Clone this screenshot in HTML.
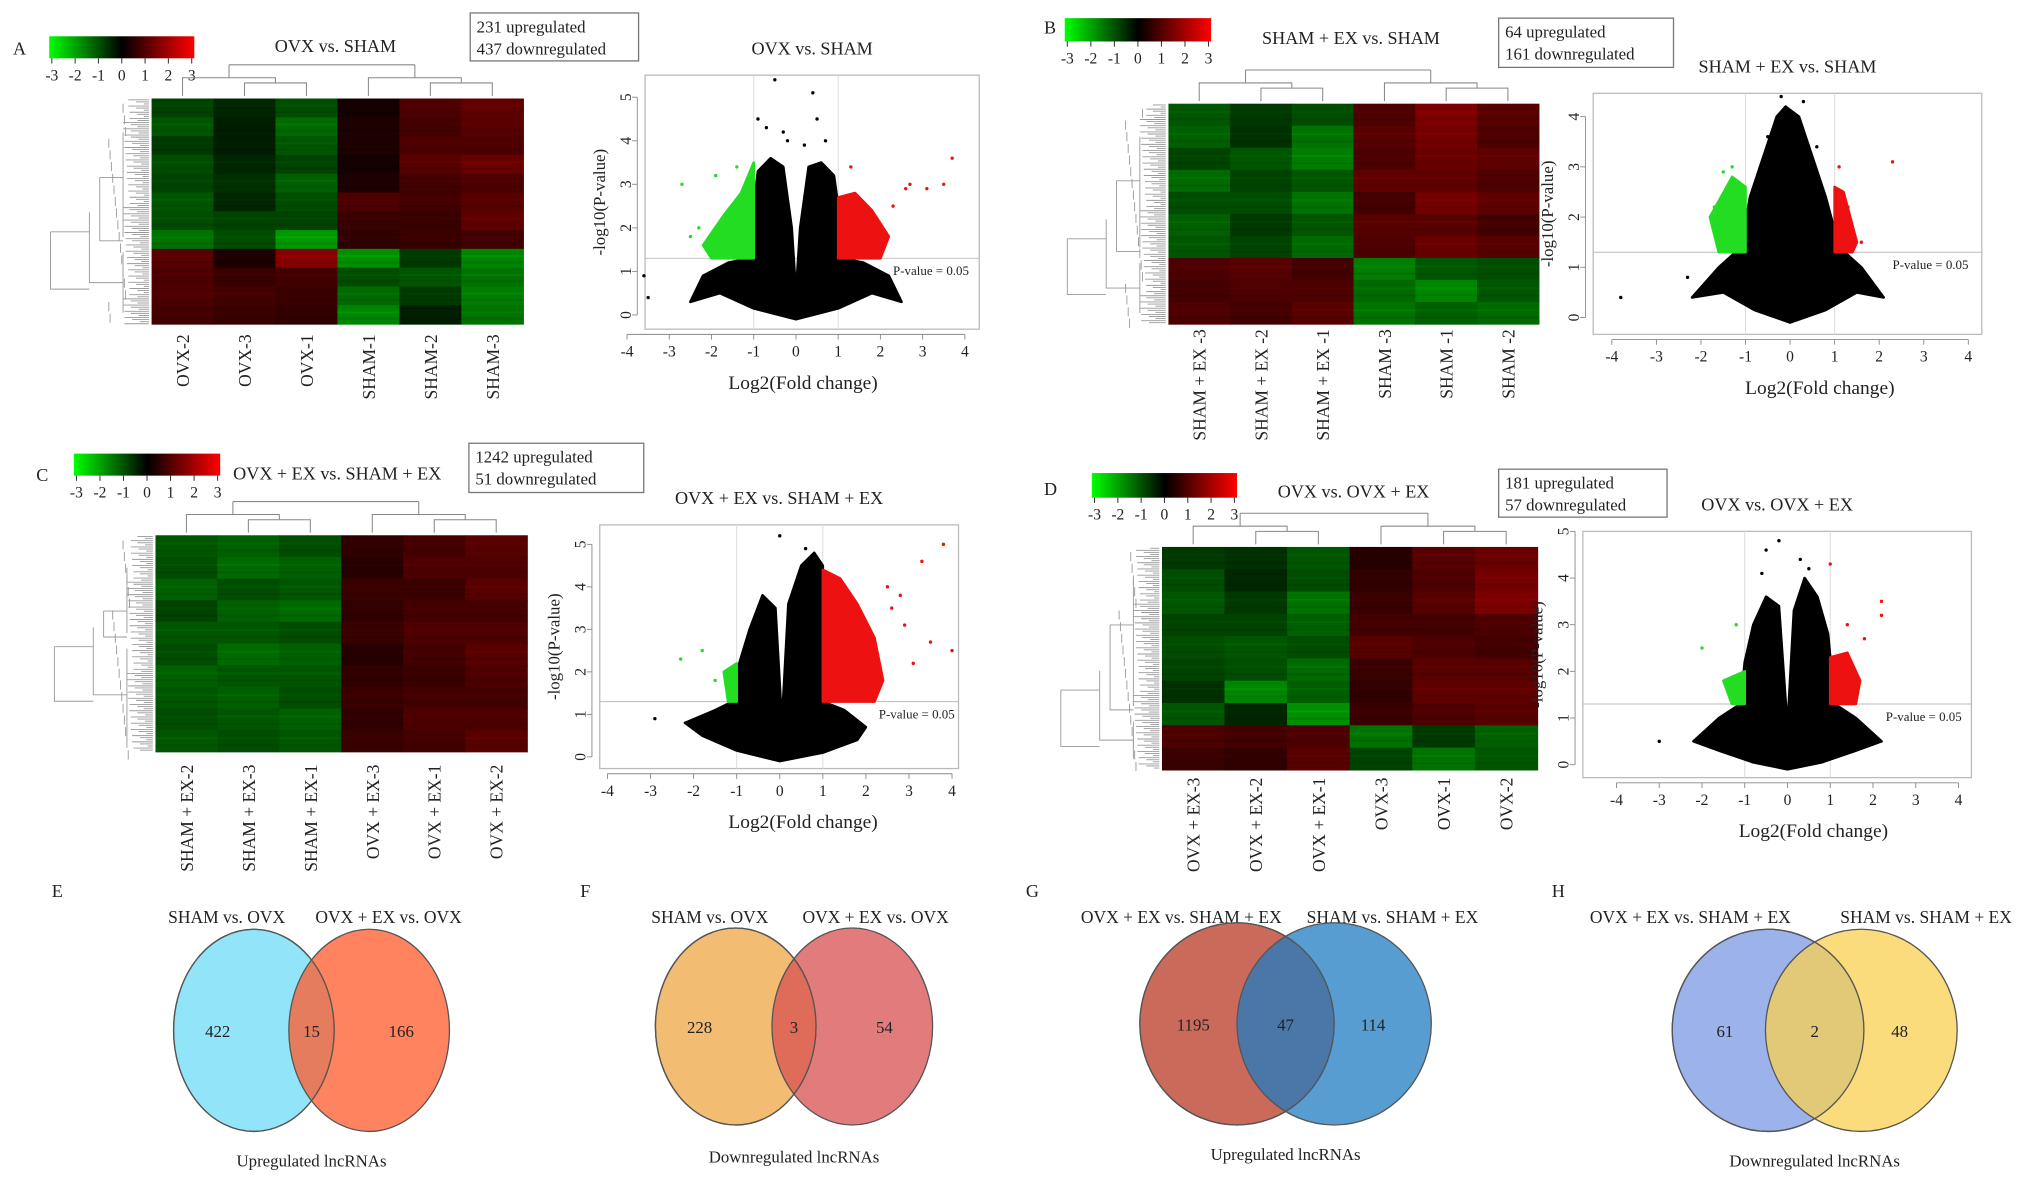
<!DOCTYPE html>
<html><head><meta charset="utf-8">
<style>
html,body{margin:0;padding:0;background:#fff;}
svg{display:block;}
text{font-family:"Liberation Serif",serif;fill:#222;}
</style></head>
<body>
<svg id="fig" width="2031" height="1182" viewBox="0 0 1568 912" preserveAspectRatio="none" xmlns="http://www.w3.org/2000/svg">
<defs>
<linearGradient id="cbar" x1="0" x2="1" y1="0" y2="0">
<stop offset="0" stop-color="#00ff00"/><stop offset="0.5" stop-color="#000"/><stop offset="1" stop-color="#ff0000"/>
</linearGradient>
</defs>
</svg>
<script>
// ---------- DATA ----------
const heatA = [
[-0.7,-0.4,-0.8,0.2,0.8,1.0],[-0.9,-0.3,-1.1,0.3,0.7,0.9],[-0.6,-0.3,-0.9,0.3,0.8,0.8],
[-0.8,-0.4,-0.7,0.2,0.9,1.1],[-0.7,-0.5,-1.0,0.3,0.7,0.8],[-0.9,-0.4,-0.8,0.8,0.7,0.9],
[-0.8,-0.7,-0.7,0.6,0.6,1.0],[-1.2,-0.8,-1.6,0.5,0.6,0.7],[0.9,0.3,1.4,-1.5,-0.6,-1.4],
[0.8,0.6,0.7,-0.8,-0.9,-1.2],[0.8,0.7,0.6,-1.1,-0.6,-1.3],[0.7,0.6,0.5,-1.4,-0.3,-1.2]];
const heatB = [
[-0.9,-0.6,-0.8,0.8,1.3,0.9],[-1.0,-0.5,-1.2,0.9,1.2,0.8],[-0.7,-0.9,-1.3,0.8,1.1,1.0],
[-1.1,-0.7,-0.9,1.0,1.0,0.8],[-0.8,-0.8,-1.2,0.7,1.2,1.0],[-1.0,-0.6,-0.9,0.9,0.9,0.7],
[-0.9,-0.7,-1.1,0.8,1.1,0.9],[0.8,0.9,0.7,-1.3,-0.9,-0.8],[0.7,0.8,0.8,-1.1,-1.4,-0.9],
[0.8,0.7,0.9,-1.2,-1.0,-1.1]];
const heatC = [
[-0.9,-1.0,-0.8,0.5,0.7,0.9],[-0.8,-1.1,-1.0,0.4,0.8,0.8],[-1.0,-0.8,-0.9,0.6,0.6,0.9],
[-0.7,-1.0,-1.1,0.5,0.7,0.7],[-0.9,-0.9,-0.8,0.6,0.8,0.8],[-0.8,-1.1,-1.0,0.4,0.7,0.9],
[-1.0,-0.9,-0.9,0.5,0.6,0.8],[-0.9,-1.0,-0.8,0.6,0.7,0.7],[-0.8,-0.9,-1.0,0.5,0.8,0.8],
[-0.9,-0.8,-0.9,0.6,0.7,0.9]];
const heatD = [
[-0.6,-0.5,-0.9,0.4,0.9,1.1],[-0.8,-0.4,-0.8,0.5,0.8,1.2],[-0.9,-0.6,-1.2,0.6,0.9,1.3],
[-0.7,-0.7,-1.0,0.7,0.7,0.8],[-0.8,-0.9,-0.8,0.9,0.8,0.7],[-0.7,-0.8,-1.1,0.6,0.9,0.9],
[-0.5,-1.4,-1.0,0.5,1.0,1.0],[-0.9,-0.4,-1.5,0.6,0.8,0.9],[0.8,0.7,0.8,-1.2,-0.6,-1.0],
[0.6,0.5,0.9,-0.7,-1.2,-0.9]];
const labelsA = ["OVX-2","OVX-3","OVX-1","SHAM-1","SHAM-2","SHAM-3"];
const labelsB = ["SHAM + EX -3","SHAM + EX -2","SHAM + EX -1","SHAM -3","SHAM -1","SHAM -2"];
const labelsC = ["SHAM + EX-2","SHAM + EX-3","SHAM + EX-1","OVX + EX-3","OVX + EX-1","OVX + EX-2"];
const labelsD = ["OVX + EX-3","OVX + EX-2","OVX + EX-1","OVX-3","OVX-1","OVX-2"];
const xTicks = [-4,-3,-2,-1,0,1,2,3,4];
const cbarTicks = ["-3","-2","-1","0","1","2","3"];
// volcano envelopes (log2FC, -log10 p)
const cloudAx=[-2.5,-2.2,-1.6,-1.1,-1.0,-0.9,-0.6,-0.3,-0.1,0,0.1,0.3,0.6,0.9,1.0,1.1,1.6,2.2,2.5,1.8,1.0,0,-1.0,-1.8];
const cloudAy=[0.3,0.9,1.2,1.3,2.5,3.3,3.6,3.4,2.0,0.5,2.0,3.4,3.5,3.2,2.5,1.3,1.2,0.9,0.3,0.5,0.15,-0.1,0.15,0.5];
const greenAx=[-1,-1,-1.3,-1.7,-2.2,-2.0], greenAy=[1.3,3.5,2.8,2.3,1.6,1.3];
const redAx=[1,1,1.4,1.8,2.2,2.0], redAy=[1.3,2.7,2.8,2.4,1.8,1.3];
const ptsAx=[-0.5,0.4,-0.9,-0.3,0.5,3.7,3.1,2.7,3.5,-2.7,-3.6,-3.5,-1.9,0.7,2.3,1.9,-0.7,-0.2,0.2,-2.3,-2.5,2.6,-1.4,1.3];
const ptsAy=[5.4,5.1,4.5,4.2,4.5,3.6,2.9,3.0,3.0,3.0,0.9,0.4,3.2,4.0,2.5,2.2,4.3,4.0,3.9,2.0,1.8,2.9,3.4,3.4];
const ptsAc=["k","k","k","k","k","r","r","r","r","g","k","k","g","k","r","r","k","k","k","g","g","r","g","r"];
const cloudBx=[-2.2,-1.6,-1.1,-0.9,-0.6,-0.3,-0.1,0.2,0.5,0.8,1.1,1.6,2.1,1.5,0.8,0,-0.8,-1.5];
const cloudBy=[0.4,1.0,1.4,2.4,3.2,4.0,4.2,4.0,3.2,2.4,1.4,1.0,0.4,0.5,0.15,-0.1,0.15,0.5];
const greenBx=[-1,-1.0,-1.3,-1.8,-1.6], greenBy=[1.3,2.6,2.8,2.0,1.3];
const redBx=[1,1,1.2,1.5,1.4], redBy=[1.3,2.6,2.5,1.5,1.3];
const ptsBx=[-3.8,-1.3,2.3,1.1,-2.3,1.6,-0.2,0.3,-1.5,-1.7,1.3,-0.5,0.6];
const ptsBy=[0.4,3.0,3.1,3.0,0.8,1.5,4.4,4.3,2.9,2.2,2.2,3.6,3.4];
const ptsBc=["k","g","r","r","k","r","k","k","g","g","r","k","k"];
const cloudCx=[-2.2,-1.5,-1.1,-1.0,-0.7,-0.4,-0.1,0.05,0.2,0.5,0.8,1.0,1.0,1.5,2.0,1.8,1.0,0,-1.0,-1.8];
const cloudCy=[0.8,1.1,1.3,2.0,3.0,3.8,3.5,0.8,3.6,4.5,4.8,4.5,1.3,1.1,0.7,0.4,0.1,-0.1,0.15,0.5];
const greenCx=[-1,-1,-1.3,-1.2], greenCy=[1.3,2.2,2.0,1.3];
const redCx=[1,1,1.4,1.8,2.2,2.4,2.2], redCy=[1.3,4.4,4.2,3.6,2.8,1.8,1.3];
const ptsCx=[3.8,4.0,3.5,2.9,3.3,-2.3,-2.9,-1.8,0.0,0.6,2.6,3.1,2.5,2.8,-1.5];
const ptsCy=[5.0,2.5,2.7,3.1,4.6,2.3,0.9,2.5,5.2,4.9,3.5,2.2,4.0,3.8,1.8];
const ptsCc=["r","r","r","r","r","g","k","g","k","k","r","r","r","r","g"];
const cloudDx=[-2.2,-1.6,-1.1,-1.0,-0.8,-0.5,-0.2,0,0.15,0.4,0.7,0.95,1.1,1.6,2.2,1.6,0.8,0,-0.8,-1.6];
const cloudDy=[0.5,1.0,1.3,2.2,3.0,3.6,3.4,0.8,3.3,4.0,3.6,2.8,1.3,1.0,0.5,0.3,0.05,-0.1,0.05,0.3];
const greenDx=[-1,-1,-1.5,-1.3], greenDy=[1.3,2.0,1.8,1.3];
const redDx=[1,1,1.4,1.7,1.6], redDy=[1.3,2.3,2.4,1.8,1.3];
const ptsDx=[-0.2,-0.5,0.3,1.0,2.2,2.2,-2.0,-3.0,-1.2,1.4,-0.6,0.5,1.8];
const ptsDy=[4.8,4.6,4.4,4.3,3.5,3.2,2.5,0.5,3.0,3.0,4.1,4.2,2.7];
const ptsDc=["k","k","k","r","r","r","g","k","g","r","k","k","r"];
// venn
const vennNums = [[422,15,166],[228,3,54],[1195,47,114],[61,2,48]];
const vennSets = [["SHAM vs. OVX","OVX + EX vs. OVX"],["SHAM vs. OVX","OVX + EX vs. OVX"],
["OVX + EX vs. SHAM + EX","SHAM vs. SHAM + EX"],["OVX + EX vs. SHAM + EX","SHAM vs. SHAM + EX"]];

// ---------- helpers ----------
const svg=document.getElementById('fig');
const NS="http://www.w3.org/2000/svg";
function mk(tag,attrs,parent){const e=document.createElementNS(NS,tag);for(const k in attrs)e.setAttribute(k,attrs[k]);(parent||svg).appendChild(e);return e;}
function txt(x,y,s,size,parent,anchor,extra){const t=mk('text',Object.assign({x:x,y:y,'font-size':size,'text-anchor':anchor||'middle'},extra||{}),parent);t.textContent=s;return t;}
function hcol(v){const m=Math.min(255,Math.round(Math.abs(v)*95));return v<0?`rgb(0,${m},0)`:`rgb(${m},0,0)`;}

function panelLetter(x,y,s){const t=txt(x,y,s,14,svg,'start');

}

function colorbar(x,y,w,h){
 const g=mk('g',{});
 
 
 mk('rect',{x:x,y:y,width:w,height:h,fill:'url(#cbar)'},g);
 cbarTicks.forEach((s,i)=>{const tx=x+2+i*(w-4)/6;
  mk('line',{x1:tx,x2:tx,y1:y+h,y2:y+h+4,stroke:'#333','stroke-width':0.8},g);
  txt(tx,y+h+17,s,12,g);});
}
function countBox(x,y,w,h,l1,l2){
 const g=mk('g',{});
 
 
 mk('rect',{x:x,y:y,width:w,height:h,fill:'#fff',stroke:'#777','stroke-width':1},g);
 txt(x+5,y+15,l1,13,g,'start');txt(x+5,y+32,l2,13,g,'start');
}
function heatmap(x0,y0,w,h,data,labels,labTop,splitDendro){
 const g=mk('g',{});
 
 
 const cw=w/6,rh=h/data.length;
 data.forEach((row,r)=>row.forEach((v,c)=>{
   const cell=mk('rect',{x:x0+c*cw,y:y0+r*rh,width:cw+0.5,height:rh+0.5,fill:hcol(v)},g);
   
   
   for(let k=1;k<3;k++){mk('rect',{x:x0+c*cw,y:y0+r*rh+k*rh/3,width:cw,height:1.5,fill:hcol(v*(k==1?1.2:0.85)),opacity:0.6},g);}
 }));
 mk('line',{x1:x0-1,x2:x0-1,y1:y0,y2:y0+h,stroke:'#fff','stroke-width':2},g);
 const d=mk('g',{stroke:'#888','stroke-width':0.8,fill:'none'},g);
 
 
 const cx=i=>x0+cw*(i+0.5);
 const b=y0-2;
 mk('path',{d:`M${cx(1)},${b} V${b-10} H${cx(2)} V${b} M${(cx(1)+cx(2))/2},${b-10} V${b-14} H${cx(0)} V${b} M${(cx(0)+(cx(1)+cx(2))/2)/2},${b-14} V${b-24}`},d);
 mk('path',{d:`M${cx(4)},${b} V${b-10} H${cx(5)} V${b} M${(cx(4)+cx(5))/2},${b-10} V${b-14} H${cx(3)} V${b} M${(cx(3)+(cx(4)+cx(5))/2)/2},${b-14} V${b-24}`},d);
 const l=(cx(0)+(cx(1)+cx(2))/2)/2, rr=(cx(3)+(cx(4)+cx(5))/2)/2;
 mk('path',{d:`M${l},${b-24} H${rr}`},d);
 const rd=mk('g',{stroke:'#999','stroke-width':0.7,fill:'none'},g);
 
 
 for(let yy=y0+1;yy<y0+h;yy+=1.6){const len=4+((Math.round(yy*7))%17);mk('line',{x1:x0-2-len,x2:x0-2,y1:yy,y2:yy},rd);}
 for(let yy=y0+4;yy<y0+h;yy+=9){const len=18+((Math.round(yy*3))%14);mk('path',{d:`M${x0-2-len},${yy} V${yy+7}`},rd);}
 const sy=y0+h*splitDendro;
 mk('path',{d:`M${x0-22},${y0+h*0.15} V${sy-8} M${x0-40},${y0+h*0.35} V${sy-5} H${x0-22} M${x0-22},${sy+4} V${y0+h*0.95} M${x0-48},${(y0+h*0.35+sy)/2} V${(sy+4+y0+h*0.95)/2} H${x0-22} M${x0-78},${(y0+h*0.35+sy)/2+15} V${(sy+4+y0+h*0.95)/2+5} H${x0-48} M${x0-78},${(y0+h*0.35+sy)/2+15} H${x0-48} M${x0-40},${y0+h*0.35} H${x0-22}`},rd);
 labels.forEach((s,i)=>{const t=txt(cx(i)+5,labTop,s,13.5,g,'end',{transform:`rotate(-90 ${cx(i)+5} ${labTop})`});
  
  });
}
function volcano(o){
 const g=mk('g',{});
 
 
 const X=v=>o.x0+v*o.sx, Y=v=>o.y0-v*o.sy;
 mk('rect',{x:o.bx,y:o.by,width:o.bw,height:o.bh,fill:'#fff',stroke:'#bbb','stroke-width':1},g);
 txt((o.bx+o.bx+o.bw)/2,o.by-16,o.title,14,g);
 [-1,1].forEach(v=>mk('line',{x1:X(v),x2:X(v),y1:o.by,y2:o.by+o.bh,stroke:'#ddd','stroke-width':0.8},g));
 mk('line',{x1:o.bx,x2:o.bx+o.bw,y1:Y(1.3),y2:Y(1.3),stroke:'#bbb','stroke-width':0.7},g);
 const poly=(xs,ys,f,nm)=>{const p=mk('polygon',{points:xs.map((v,i)=>X(v)+','+Y(ys[i])).join(' '),fill:f,stroke:f,'stroke-width':2,'stroke-linejoin':'round'},g);
   
   };
 poly(o.cx,o.cy,'#000','nonsignificant-point-cloud');
 poly(o.gx,o.gy,'#22dd22','downregulated-points');
 poly(o.rx,o.ry,'#ee1111','upregulated-points');
 o.px.forEach((v,i)=>{const c=mk('circle',{cx:X(v),cy:Y(o.py[i]),r:1.3,fill:o.pc[i]=='r'?'#e11':o.pc[i]=='g'?'#2d2':'#000'},g);
   
   });
 txt(X(2.3),Y(1.3)+13,'P-value = 0.05',10,g,'start');
 const ax=o.by+o.bh+4;
 xTicks.forEach(v=>{mk('line',{x1:X(v),x2:X(v),y1:ax,y2:ax+4,stroke:'#888','stroke-width':0.7},g);txt(X(v),ax+17,String(v),12,g);});
 mk('line',{x1:X(-4),x2:X(4),y1:ax,y2:ax,stroke:'#888','stroke-width':0.7},g);
 const yx=o.bx-6;
 o.yt.forEach(v=>{mk('line',{x1:yx,x2:yx-4,y1:Y(v),y2:Y(v),stroke:'#888','stroke-width':0.7},g);txt(yx-9,Y(v)+4,String(v),12,g,'middle',{transform:`rotate(-90 ${yx-9} ${Y(v)})`});});
 mk('line',{x1:yx,x2:yx,y1:Y(0),y2:Y(o.yt[o.yt.length-1]),stroke:'#888','stroke-width':0.7},g);
 const xl=txt(o.xlx,ax+42,'Log2(Fold change)',15,g);
 
 
 const yl=txt(yx-25,(o.by+o.by+o.bh)/2,'-log10(P-value)',13,g,'middle',{transform:`rotate(-90 ${yx-25} ${(o.by+o.by+o.bh)/2})`});
 
 
}
function venn(L,nums,sets,c1,c2,x1,x2,cy,rx,ry,cap,lx1,lx2,letterX){
 const g=mk('g',{});
 
 
 panelLetter(letterX,692,L);
 txt(lx1,712,sets[0],13.5,g);txt(lx2,712,sets[1],13.5,g);
 const a=mk('ellipse',{cx:x1,cy:cy,rx:rx,ry:ry,fill:c1,stroke:'#555','stroke-width':1,'fill-opacity':0.85},g);
 
 
 const b=mk('ellipse',{cx:x2,cy:cy,rx:rx,ry:ry,fill:c2,stroke:'#555','stroke-width':1,'fill-opacity':0.75},g);
 
 
 mk('ellipse',{cx:x1,cy:cy,rx:rx,ry:ry,fill:'none',stroke:'#555','stroke-width':1},g);
 txt(x1-rx*0.45,cy+5,String(nums[0]),13,g);
 txt((x1+x2)/2,cy+5,String(nums[1]),13,g);
 txt(x2+rx*0.4,cy+5,String(nums[2]),13,g);
 txt((x1+x2)/2,cy+105,cap,13,g);
}

// ---------- Panel A ----------
panelLetter(10,42,'A');
colorbar(38,28,112,17);
txt(259,40,'OVX vs. SHAM',14);
countBox(363,10,130,37,'231 upregulated','437 downregulated');
heatmap(117,76,287,174,heatA,labelsA,258,0.66);
volcano({bx:498,by:58,bw:258,bh:196,x0:614.5,sx:32.6,y0:243,sy:33.6,title:'OVX vs. SHAM',yt:[0,1,2,3,4,5],xlx:620,
 cx:cloudAx,cy:cloudAy,gx:greenAx,gy:greenAy,rx:redAx,ry:redAy,px:ptsAx,py:ptsAy,pc:ptsAc});
// ---------- Panel B ----------
panelLetter(806,26,'B');
colorbar(822,14,113,18);
txt(1043,34,'SHAM + EX vs.  SHAM',14);
countBox(1157,14,135,38,'64 upregulated','161 downregulated');
heatmap(902,80,286,170,heatB,labelsB,254,0.7);
volcano({bx:1230,by:72,bw:300,bh:186,x0:1382,sx:34.4,y0:245,sy:38.75,title:'SHAM + EX vs.  SHAM',yt:[0,1,2,3,4],xlx:1405,
 cx:cloudBx,cy:cloudBy,gx:greenBx,gy:greenBy,rx:redBx,ry:redBy,px:ptsBx,py:ptsBy,pc:ptsBc});
// ---------- Panel C ----------
panelLetter(28,371,'C');
colorbar(57,350,113,17);
txt(180,370,'OVX + EX vs. SHAM + EX',14,svg,'start');
countBox(362,342,135,38,'1242 upregulated','51 downregulated');
heatmap(120,413,287,167,heatC,labelsC,590,0.5);
volcano({bx:463,by:405,bw:277,bh:188,x0:602,sx:33.25,y0:584,sy:32.8,title:'OVX + EX vs. SHAM + EX',yt:[0,1,2,3,4,5],xlx:620,
 cx:cloudCx,cy:cloudCy,gx:greenCx,gy:greenCy,rx:redCx,ry:redCy,px:ptsCx,py:ptsCy,pc:ptsCc});
// ---------- Panel D ----------
panelLetter(806,382,'D');
colorbar(843,365,112,19);
txt(1045,384,'OVX vs. OVX + EX',14);
countBox(1157,362,130,37,'181 upregulated','57 downregulated');
heatmap(897,422,290,172,heatD,labelsD,600,0.76);
volcano({bx:1222,by:410,bw:300,bh:190,x0:1380,sx:33,y0:590,sy:36,title:'OVX vs. OVX + EX',yt:[0,1,2,3,4,5],xlx:1400,
 cx:cloudDx,cy:cloudDy,gx:greenDx,gy:greenDy,rx:redDx,ry:redDy,px:ptsDx,py:ptsDy,pc:ptsDc});
// ---------- Venns ----------
venn('E',vennNums[0],vennSets[0],'#7fdff7','#ff5a2a',196,285,795,62,78,'Upregulated lncRNAs',175,300,40);
venn('F',vennNums[1],vennSets[1],'#f0b05a','#d85050',568,658,792,62,76,'Downregulated lncRNAs',548,676,448);
venn('G',vennNums[2],vennSets[2],'#c0503e','#1f7cc2',955,1030,790,75,78,'Upregulated lncRNAs',912,1075,792);
venn('H',vennNums[3],vennSets[3],'#8aa4e6','#f8d050',1365,1437,795,74,78,'Downregulated lncRNAs',1305,1487,1198);
</script>
</body></html>
